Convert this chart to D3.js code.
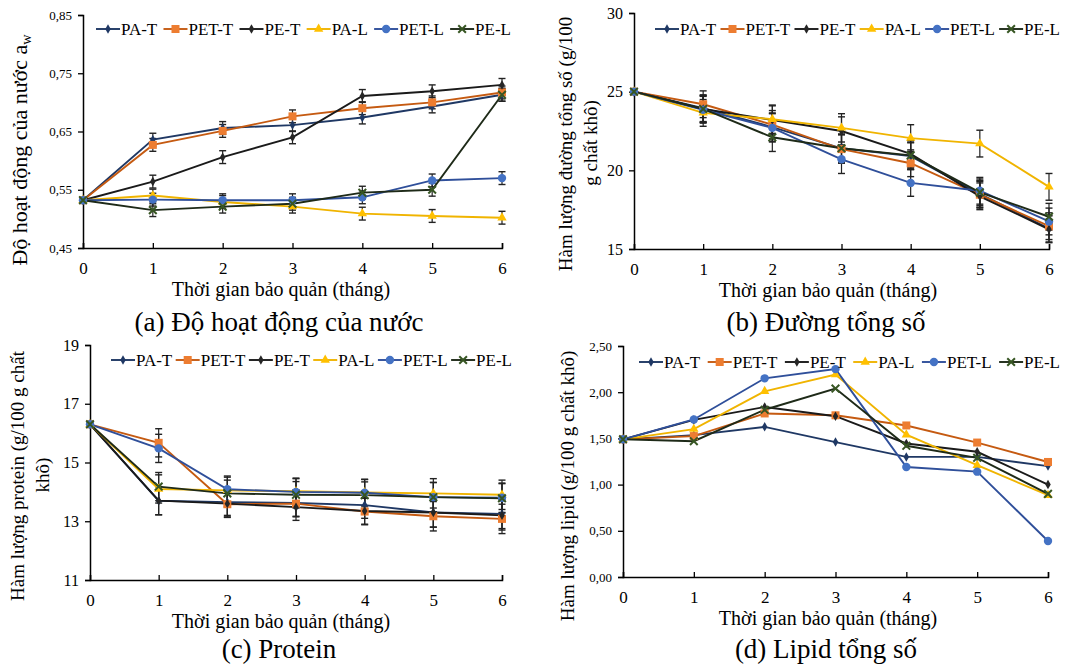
<!DOCTYPE html>
<html><head><meta charset="utf-8">
<script src="https://cdn.jsdelivr.net/npm/d3@7"></script>
<style>body{margin:0;background:#fff}svg{display:block}text{font-family:"Liberation Serif","Times New Roman","DejaVu Serif",serif;fill:#000}</style>
</head><body><svg id="c" width="1090" height="667"></svg>
<script>
const months = [0, 1, 2, 3, 4, 5, 6];
const seriesNames = ["PA-T", "PET-T", "PE-T", "PA-L", "PET-L", "PE-L"];

// (a) water activity
const awValues = [
  [0.532, 0.636, 0.656, 0.661, 0.674, 0.693, 0.713],
  [0.532, 0.627, 0.651, 0.676, 0.690, 0.700, 0.717],
  [0.532, 0.564, 0.606, 0.640, 0.711, 0.719, 0.730],
  [0.532, 0.540, 0.529, 0.521, 0.509, 0.505, 0.502],
  [0.532, 0.533, 0.532, 0.532, 0.537, 0.566, 0.570],
  [0.532, 0.515, 0.521, 0.526, 0.545, 0.550, 0.713]
];
const awErr = [0, 0.011, 0.011, 0.011, 0.011, 0.011, 0.011];
const awTicks = [0.45, 0.55, 0.65, 0.75, 0.85];

// (b) total sugar
const sugarValues = [
  [25, 23.95, 22.75, 21.40, 20.90, 18.50, 16.30],
  [25, 24.20, 22.90, 21.35, 20.45, 18.45, 16.45],
  [25, 23.90, 23.20, 22.50, 21.05, 18.35, 16.25],
  [25, 23.65, 23.25, 22.70, 22.05, 21.70, 18.95],
  [25, 23.85, 22.70, 20.70, 19.20, 18.70, 16.75],
  [25, 23.90, 22.10, 21.40, 20.95, 18.60, 17.05]
];
const sugarErr = [0, 0.85, 0.9, 0.9, 0.85, 0.85, 0.85];
const sugarTicks = [15, 20, 25, 30];

// (c) protein
const proteinValues = [
  [16.3, 13.70, 13.65, 13.62, 13.55, 13.30, 13.25],
  [16.3, 15.67, 13.58, 13.60, 13.33, 13.17, 13.08],
  [16.3, 13.70, 13.60, 13.48, 13.35, 13.30, 13.20],
  [16.3, 14.10, 14.05, 14.02, 13.98, 13.95, 13.90],
  [16.3, 15.48, 14.09, 14.00, 13.97, 13.82, 13.80],
  [16.3, 14.18, 13.95, 13.90, 13.89, 13.82, 13.78]
];
const proteinErr = [0, 0.48, 0.45, 0.45, 0.45, 0.5, 0.5];
const proteinTicks = [11, 13, 15, 17, 19];

// (d) total lipid
const lipidValues = [
  [1.49, 1.535, 1.625, 1.46, 1.30, 1.30, 1.20],
  [1.49, 1.525, 1.77, 1.75, 1.64, 1.455, 1.245],
  [1.49, 1.70, 1.84, 1.74, 1.445, 1.355, 1.00],
  [1.49, 1.60, 2.01, 2.19, 1.54, 1.21, 0.885],
  [1.49, 1.705, 2.15, 2.25, 1.19, 1.14, 0.39],
  [1.49, 1.47, 1.81, 2.04, 1.42, 1.29, 0.90]
];
const lipidTicks = [0, 0.5, 1.0, 1.5, 2.0, 2.5];

const lineColors = ["#1f3864", "#c55a11", "#1a1a1a", "#f0b400", "#2f4f9a", "#1e2a18"];
const markColors = ["#1f3864", "#ed7d31", "#262626", "#ffc000", "#4472c4", "#375623"];
const markShapes = ["diamond", "square", "diamond", "triangle", "circle", "x"];

const svg = d3.select("#c");

function marker(g, shape, color, x, y) {
  if (shape === "circle") g.append("circle").attr("cx", x).attr("cy", y).attr("r", 4.2).attr("fill", color);
  else if (shape === "square") g.append("rect").attr("x", x - 4).attr("y", y - 4).attr("width", 8).attr("height", 8).attr("fill", color);
  else if (shape === "diamond") g.append("path").attr("d", d3.symbol(d3.symbolDiamond, 26)()).attr("transform", `translate(${x},${y})`).attr("fill", color);
  else if (shape === "triangle") g.append("path").attr("d", d3.symbol(d3.symbolTriangle, 38)()).attr("transform", `translate(${x},${y})`).attr("fill", color);
  else if (shape === "x") g.append("path").attr("d", d3.symbol(d3.symbolX, 40)()).attr("transform", `translate(${x},${y})`).attr("stroke", color).attr("stroke-width", 2).attr("fill", "none");
}

function panel(cfg) {
  const x = d3.scaleLinear().domain([0, 6]).range([cfg.x0, cfg.x1]);
  const y = d3.scaleLinear().domain(cfg.domain).range([cfg.yb, cfg.yt]);
  const g = svg.append("g");
  const ya = g.append("g").attr("transform", `translate(${cfg.x0},0)`)
    .call(d3.axisLeft(y).tickValues(cfg.ticks).tickSize(5).tickPadding(6).tickFormat(cfg.fmt));
  ya.attr("font-family", null);
  ya.select(".domain").attr("stroke", "#000").attr("stroke-width", 1.5);
  ya.selectAll(".tick line").attr("stroke", "#000").attr("stroke-width", 1.3);
  ya.selectAll("text").attr("font-size", cfg.ytfs).attr("fill", "#000");
  const xa = g.append("g").attr("transform", `translate(0,${cfg.yb})`)
    .call(d3.axisBottom(x).tickValues(months).tickSize(-5).tickPadding(14).tickFormat(d3.format("d")));
  xa.attr("font-family", null);
  xa.select(".domain").attr("stroke", "#000").attr("stroke-width", 1.5);
  xa.selectAll(".tick line").attr("stroke", "#000").attr("stroke-width", 1.3);
  xa.selectAll("text").attr("font-size", 17).attr("fill", "#000");

  const line = d3.line().x((d, i) => x(months[i])).y(d => y(d));
  if (cfg.err) {
    cfg.values.forEach(vals => {
      vals.forEach((v, i) => {
        const e = cfg.err[i];
        if (!e) return;
        const px = x(months[i]);
        g.append("line").attr("x1", px).attr("x2", px).attr("y1", y(v - e)).attr("y2", y(v + e)).attr("stroke", "#222").attr("stroke-width", 1.2);
        [v - e, v + e].forEach(w => g.append("line").attr("x1", px - 3.5).attr("x2", px + 3.5).attr("y1", y(w)).attr("y2", y(w)).attr("stroke", "#222").attr("stroke-width", 1.4));
      });
    });
  }
  cfg.values.forEach((vals, s) => {
    g.append("path").attr("d", line(vals)).attr("fill", "none").attr("stroke", lineColors[s]).attr("stroke-width", 1.9);
  });
  cfg.values.forEach((vals, s) => {
    vals.forEach((v, i) => marker(g, markShapes[s], markColors[s], x(months[i]), y(v)));
  });

  const lg = g.append("g");
  const fs = 17, segLen = 24;
  const tmp = lg.append("text").attr("font-size", fs);
  const widths = seriesNames.map(n => { tmp.text(n); return tmp.node().getComputedTextLength(); });
  tmp.remove();
  const total = d3.sum(widths) + seriesNames.length * (segLen + 1);
  const gap = (cfg.legEnd - cfg.legStart - total) / (seriesNames.length - 1);
  let cx = cfg.legStart;
  seriesNames.forEach((n, s) => {
    lg.append("line").attr("x1", cx).attr("x2", cx + segLen).attr("y1", cfg.legY).attr("y2", cfg.legY).attr("stroke", lineColors[s]).attr("stroke-width", 1.9);
    marker(lg, markShapes[s], markColors[s], cx + segLen / 2, cfg.legY);
    lg.append("text").attr("x", cx + segLen + 1).attr("y", cfg.legY + 5.5).attr("font-size", fs).text(n);
    cx += segLen + 1 + widths[s] + gap;
  });

  g.append("text").attr("x", cfg.titleX).attr("y", cfg.yb + 48).attr("text-anchor", "middle").attr("font-size", 20).text("Thời gian bảo quản (tháng)");
  g.append("text").attr("x", cfg.capX).attr("y", cfg.yb + cfg.capDy).attr("text-anchor", "middle").attr("font-size", 27).text(cfg.caption);
  cfg.ylab.forEach(l => {
    const t = g.append("text").attr("transform", `translate(${l.x},${l.y}) rotate(-90)`).attr("text-anchor", "middle").attr("font-size", l.fs);
    t.text(l.t);
    if (l.sub) t.append("tspan").attr("font-size", l.fs * 0.65).attr("dy", 4).text(l.sub);
  });
}

const comma2 = d => d3.format(".2f")(d).replace(".", ",");

panel({ x0: 83, x1: 502, yt: 15, yb: 248, domain: [0.45, 0.85], ticks: awTicks, fmt: comma2, ytfs: 13,
  values: awValues, err: awErr, legStart: 96, legEnd: 511, legY: 29, titleX: 281, capX: 279, capDy: 83,
  caption: "(a) Độ hoạt động của nước",
  ylab: [{ x: 27, y: 150, t: "Độ hoạt động của nước a", sub: "w", fs: 22 }] });

panel({ x0: 634, x1: 1049, yt: 13, yb: 249, domain: [15, 30], ticks: sugarTicks, fmt: d3.format("d"), ytfs: 16,
  values: sugarValues, err: sugarErr, legStart: 655, legEnd: 1060, legY: 29, titleX: 828, capX: 826, capDy: 82,
  caption: "(b) Đường tổng số",
  ylab: [{ x: 572, y: 144, t: "Hàm lượng đường tổng số (g/100", fs: 19 }, { x: 597, y: 143, t: "g chất khô)", fs: 19 }] });

panel({ x0: 90, x1: 502, yt: 345, yb: 580, domain: [11, 19], ticks: proteinTicks, fmt: d3.format("d"), ytfs: 16,
  values: proteinValues, err: proteinErr, legStart: 111, legEnd: 512, legY: 360, titleX: 281, capX: 279, capDy: 78,
  caption: "(c) Protein",
  ylab: [{ x: 24, y: 476, t: "Hàm lượng protein (g/100 g chất", fs: 19 }, { x: 49, y: 475, t: "khô)", fs: 19 }] });

panel({ x0: 623, x1: 1048, yt: 346, yb: 577, domain: [0, 2.5], ticks: lipidTicks, fmt: comma2, ytfs: 13,
  values: lipidValues, err: null, legStart: 639, legEnd: 1060, legY: 362, titleX: 828, capX: 826, capDy: 81,
  caption: "(d) Lipid tổng số",
  ylab: [{ x: 574, y: 486, t: "Hàm lượng lipid (g/100 g chất khô)", fs: 19 }] });
</script></body></html>
